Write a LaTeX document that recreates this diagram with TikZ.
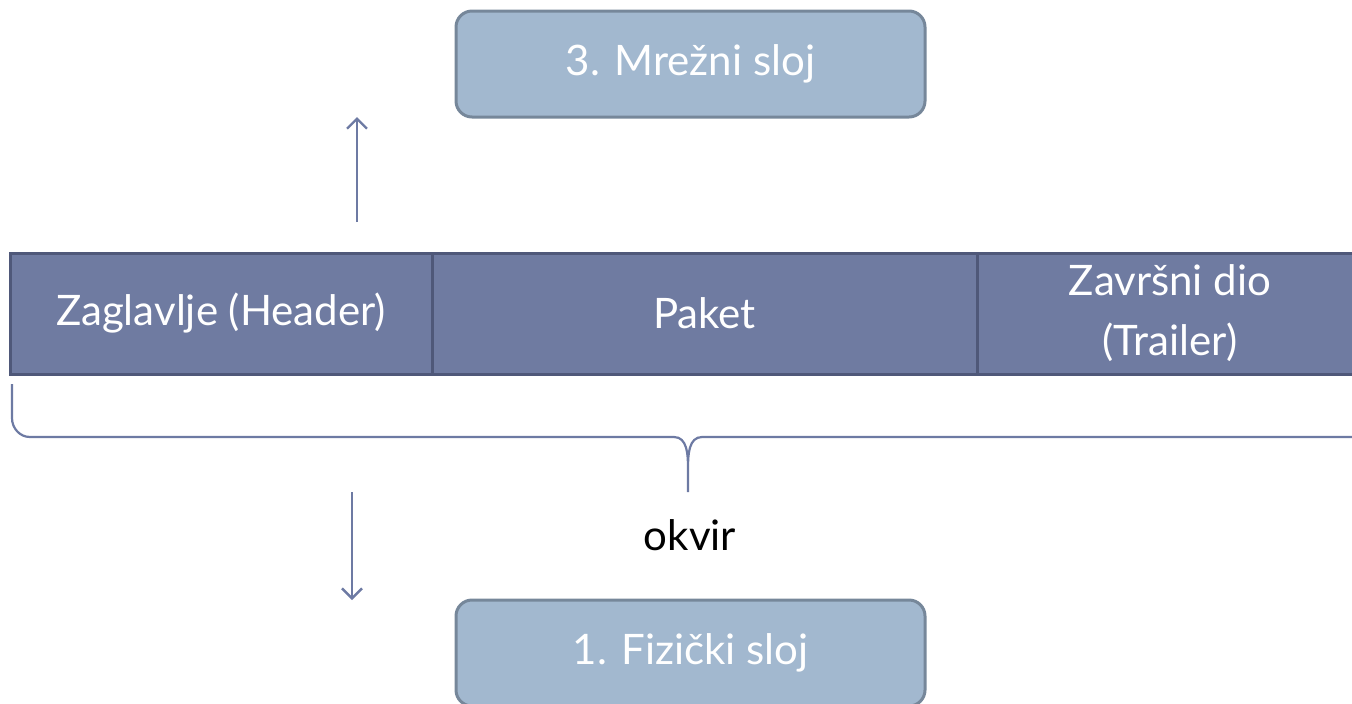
\documentclass[tikz,border=0pt]{standalone}
\usepackage{fontspec}
\setmainfont{Lato}
\usepackage{tikz}
\usetikzlibrary{arrows.meta, positioning, calc}
\definecolor{okvirfill}{HTML}{6F7BA1}
\definecolor{okvirdraw}{HTML}{4F5879}
\definecolor{slojfill}{HTML}{A2B8CF}
\definecolor{slojdraw}{HTML}{76879A}
\definecolor{linija}{HTML}{6D7AA3}
\tikzset{
  polje/.style={rectangle, draw=okvirdraw, fill=okvirfill, line width=1.5pt,
                minimum width=#1, minimum height=60.5pt, outer sep=0pt, inner sep=0pt,
                text=white, align=center, font=\fontsize{21}{30}\selectfont},
  polje/.default=200pt,
  sloj/.style={rectangle, rounded corners=8pt, draw=slojdraw, fill=slojfill, line width=1.5pt,
               minimum width=234.5pt, minimum height=53pt, outer sep=0pt,
               text=white, font=\fontsize{21}{25}\selectfont},
  strelica/.style={-{Straight Barb[length=5pt, width=10pt]}, line width=1.2pt, color=linija},
  zagrada/.style={line width=1.1pt, color=linija},
}
\begin{document}
\begin{tikzpicture}[x=0.5pt, y=-0.5pt]
  \useasboundingbox (0,0) rectangle (1352,703);
  \clip (0,0) rectangle (1352,703);
  % slojevi
  \node[sloj] (mrezni) at (690.5,64) {3. Mrežni sloj};
  \node[sloj] (fizicki) at (690.5,653) {1. Fizički sloj};
  % okvir
  \node[polje=211pt] (zaglavlje) at (221,313.5) {Zaglavlje (Header)};
  \node[polje=272.5pt, right=0pt of zaglavlje] (paket) {Paket};
  \node[polje=193pt, right=0pt of paket] (trailer) {Završni dio\\(Trailer)};
  % zagrada
  \draw[zagrada] (12,384) -- (12,418) to[out=-90, in=180] (30,437)
       -- (674,437) to[out=0, in=90] (688,468) -- (688,492)
       (688,468) to[out=90, in=180] (702,437) -- (1360,437);
  \node[font=\fontsize{21}{25}\selectfont] (okvir) at (690,535) {okvir};
  % strelice
  \coordinate (gore) at (357,222);
  \coordinate (dolje) at (352,492);
  \draw[strelica] (gore) -- (gore |- mrezni.south);
  \draw[strelica] (dolje) -- (dolje |- fizicki.north);
\end{tikzpicture}
\end{document}
